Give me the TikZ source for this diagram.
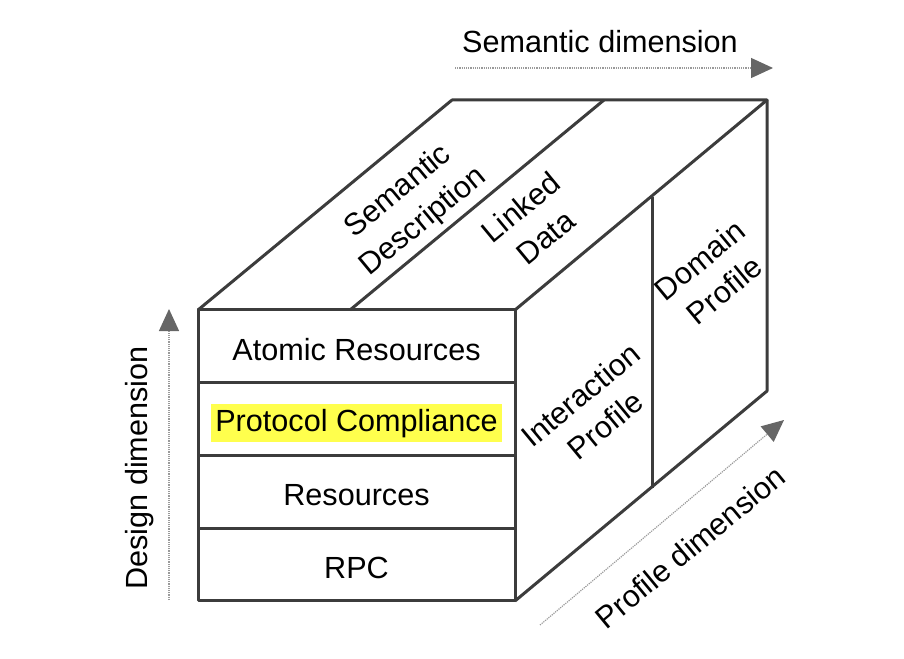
\documentclass[tikz,border=0pt]{standalone}
\usepackage{fontspec}
\setmainfont{Liberation Sans}
\usetikzlibrary{arrows.meta,positioning}
\definecolor{cubegray}{HTML}{3C3C3C}
\definecolor{dotgray}{HTML}{9A9A9A}
\definecolor{tipgray}{HTML}{666666}
\definecolor{hiyellow}{HTML}{FFFF4D}
\begin{document}
\begin{tikzpicture}[x=1pt,y=-1pt,
  edge/.style={draw=cubegray,line width=3pt,line join=round},
  layer/.style={edge,minimum width=317pt,minimum height=72.75pt,inner sep=0pt,outer sep=0pt,
    text height=28pt,text depth=0pt,font=\fontsize{30.6}{39}\selectfont},
  lbl/.style={font=\fontsize{30.6}{39}\selectfont,align=center},
  dimarrow/.style={draw=dotgray,densely dotted,line width=1.2pt,-{Triangle[length=22pt,width=20pt,color=tipgray,fill=tipgray]}}]
  \useasboundingbox (0,0) rectangle (904,658);
  % front face: the four design layers
  \node[layer] (rpc) at (356.5,564.6) {RPC};
  \node[layer,above=0pt of rpc] (res) {Resources};
  \node[layer,above=0pt of res] (proto) {};
  \node[layer,above=0pt of proto] (atom) {Atomic Resources};
  \node[lbl,fill=hiyellow,inner xsep=4.5pt,inner ysep=5pt,yshift=-4pt] (protolbl) at (proto) {Protocol Compliance};
  % back corners of the cube
  \coordinate (btl) at (452,100);
  \coordinate (btr) at (767,100);
  \coordinate (bbr) at (767,391);
  % top and side faces
  \draw[edge] (atom.north west) -- (btl) -- (btr) -- (atom.north east);
  \draw[edge] (btr) -- (bbr) -- (rpc.south east);
  \coordinate (topfront) at (350,310);
  \coordinate (topback) at (604,100);
  \draw[edge] (topfront) -- (topback);
  \coordinate (sidetop) at (652,197);
  \coordinate (sidebot) at (652,488);
  \draw[edge] (sidetop) -- (sidebot);
  % face labels
  \node[lbl,rotate=39.6] (semdesc) at (411,207) {Semantic\\Description};
  \node[lbl,rotate=39.6] (linked) at (533,222) {Linked\\Data};
  \node[lbl,rotate=39.6] (interact) at (593,410) {Interaction\\Profile};
  \node[lbl,rotate=39.6] (domain) at (712,275) {Domain\\Profile};
  % dimension arrows
  \coordinate (semA) at (455,68);
  \coordinate (semB) at (773,68);
  \draw[dimarrow] (semA) -- (semB);
  \node[lbl] (semtxt) at (600,42) {Semantic dimension};
  \coordinate (desA) at (169,600);
  \coordinate (desB) at (169,309);
  \draw[dimarrow] (desA) -- (desB);
  \node[lbl,rotate=90] (destxt) at (140,468) {Design dimension};
  \coordinate (proA) at (540,625);
  \coordinate (proB) at (784,420);
  \draw[dimarrow] (proA) -- (proB);
  \node[lbl,rotate=39.6] (protxt) at (690,547) {Profile dimension};
\end{tikzpicture}
\end{document}
